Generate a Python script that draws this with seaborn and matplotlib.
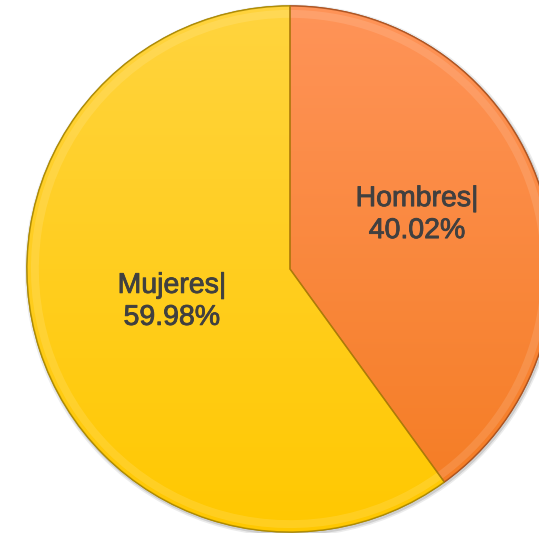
import numpy as np
import matplotlib
matplotlib.use("Agg")
import matplotlib.pyplot as plt
import matplotlib.patheffects as pe
import seaborn as sns
from matplotlib.patches import Wedge
from matplotlib.colors import LinearSegmentedColormap

sns.set_theme(style="white")
plt.rcParams["font.family"] = ["Liberation Sans", "DejaVu Sans"]

# Distribución por sexo
categorias = ["Hombres", "Mujeres"]
porcentajes = [40.02, 59.98]

# Gradient ends (top, bottom) for each slice
gradientes = [("#FF9459", "#F47B20"), ("#FFD43F", "#FFC800")]
bordes = ["#A8501E", "#A88600"]

fig = plt.figure(figsize=(5.39, 5.33), dpi=100)
ax = fig.add_axes([0, 0, 1, 1])

# soft drop shadow under the pie
for k, a in zip([1.012, 1.006], [0.08, 0.12]):
    ax.pie(porcentajes, radius=k, startangle=90, counterclock=False,
           center=(0.004, -0.006),
           colors=["#000000"] * 2, wedgeprops=dict(alpha=a, linewidth=0))

wedges, _ = ax.pie(porcentajes, radius=1.0, startangle=90, counterclock=False,
                   colors=[g[1] for g in gradientes],
                   wedgeprops=dict(linewidth=1.0))

for w, (c_top, c_bot), b in zip(wedges, gradientes, bordes):
    w.set_edgecolor(b)
    cmap = LinearSegmentedColormap.from_list("g", [c_bot, c_top])
    grad = np.linspace(0, 1, 256).reshape(-1, 1)
    im = ax.imshow(grad, cmap=cmap, origin="lower", aspect="auto",
                   extent=[-1.02, 1.02, -1.02, 1.02], zorder=w.get_zorder() + 0.1)
    im.set_clip_path(w)
    # bevel highlight just inside the edge
    ax.add_patch(Wedge(w.center, w.r * 0.985, w.theta1, w.theta2,
                       width=w.r * 0.03, facecolor="white", alpha=0.12,
                       linewidth=0, zorder=w.get_zorder() + 0.2))
    ax.add_patch(Wedge(w.center, w.r, w.theta1, w.theta2,
                       facecolor="none", edgecolor=b, linewidth=1.0, alpha=0.8,
                       zorder=w.get_zorder() + 0.3))

posiciones = [(0.483, 0.205), (-0.449, -0.125)]
for cat, val, (x, y) in zip(categorias, porcentajes, posiciones):
    ax.text(x, y, f"{cat}|\n{val:.2f}%", ha="center", va="center",
            fontsize=20.5, color="#404040", linespacing=1.3, zorder=10,
            path_effects=[pe.withStroke(linewidth=0.6, foreground="#404040")])

# place the pie: centre at (290, 269) px, radius 263 px, right side clipped
cx_px, cy_px, r_px = 290, 269, 263
W, H = 539, 533
ax.set_aspect("auto")
ax.set_xlim(-cx_px / r_px, (W - cx_px) / r_px)
ax.set_ylim(-(H - cy_px) / r_px, cy_px / r_px)
ax.axis("off")

fig.savefig("out.png", dpi=100)
